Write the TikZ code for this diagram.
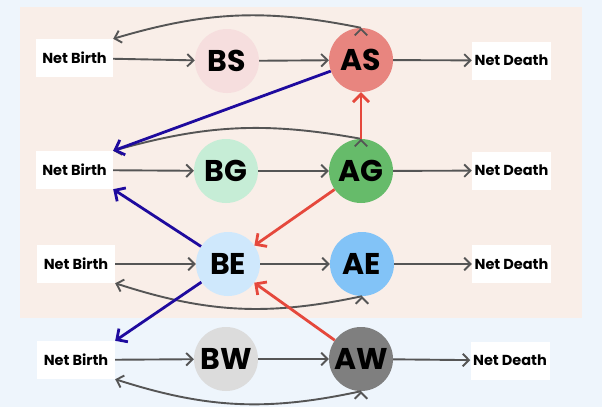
\documentclass[tikz,border=0pt]{standalone}
\usepackage{fontspec}
\setmainfont{Poppins}
\usepackage{tikz}
\usetikzlibrary{arrows.meta}
\definecolor{bgblue}{HTML}{EEF5FC}
\definecolor{peach}{HTML}{F9EEE8}
\definecolor{colBS}{HTML}{F6DEDE}
\definecolor{colAS}{HTML}{E8857F}
\definecolor{colBG}{HTML}{C6EDD6}
\definecolor{colAG}{HTML}{66BB6A}
\definecolor{colBE}{HTML}{CFE8FC}
\definecolor{colAE}{HTML}{82C3F7}
\definecolor{colBW}{HTML}{DCDCDC}
\definecolor{colAW}{HTML}{7F7F7F}
\definecolor{flowgray}{HTML}{555555}
\definecolor{flowblue}{HTML}{1E0A9E}
\definecolor{flowred}{HTML}{E5483C}
\tikzstyle{stage}=[circle, minimum size=64pt, inner sep=0pt, font=\fontsize{30}{30}\selectfont\bfseries]
\tikzstyle{flowbox}=[fill=white, minimum height=38pt, inner sep=0pt, font=\fontsize{14.5}{14.5}\selectfont\bfseries]
\tikzstyle{arrow}=[draw=flowgray, line width=1.9pt, -{Straight Barb[length=2.2mm]}]
\tikzstyle{arrowblue}=[draw=flowblue, line width=2.8pt, -{Straight Barb[length=2.8mm]}]
\tikzstyle{arrowred}=[draw=flowred, line width=2.8pt, -{Straight Barb[length=2.8mm]}]

\begin{document}
\begin{tikzpicture}[x=1pt, y=-1pt]
		   \fill [bgblue] (0, 0) rectangle (602, 407);
		   \fill [peach] (20, 7) rectangle (582, 318);
		   \useasboundingbox (0, 0) rectangle (602, 407);
		   \begin{scope}
			   \node (nb1) at (74.5, 58)[flowbox, minimum width=77pt] {Net Birth};
			   \node (nb2) at (74.5, 170)[flowbox, minimum width=77pt] {Net Birth};
			   \node (nb3) at (76, 264)[flowbox, minimum width=78pt] {Net Birth};
			   \node (nb4) at (76, 360)[flowbox, minimum width=78pt] {Net Birth};
			   \node (BS) at (227, 61)[stage, fill=colBS] {BS};
			   \node (BG) at (226, 171)[stage, fill=colBG] {BG};
			   \node (BE) at (228, 264)[stage, fill=colBE] {BE};
			   \node (BW) at (226, 359)[stage, fill=colBW] {BW};
			   \node (AS) at (361, 60)[stage, fill=colAS] {AS};
			   \node (AG) at (361, 171)[stage, fill=colAG] {AG};
			   \node (AE) at (362, 264)[stage, fill=colAE] {AE};
			   \node (AW) at (361, 359)[stage, fill=colAW] {AW};
			   \node (nd1) at (511.5, 60.5)[flowbox, minimum width=79pt] {Net Death};
			   \node (nd2) at (511.5, 170.5)[flowbox, minimum width=79pt] {Net Death};
			   \node (nd3) at (511.5, 264)[flowbox, minimum width=79pt] {Net Death};
			   \node (nd4) at (510, 360.5)[flowbox, minimum width=79pt] {Net Death};
		   \end{scope}
		   \begin{scope}
			   % births, ageing, deaths
			   \path [arrow] (nb1) edge (BS);
			   \path [arrow] (nb2) edge (BG);
			   \path [arrow] (nb3) edge (BE);
			   \path [arrow] (nb4) edge (BW);
			   \path [arrow] (BS) edge (AS);
			   \path [arrow] (BG) edge (AG);
			   \path [arrow] (BE) edge (AE);
			   \path [arrow] (BW) edge (AW);
			   \path [arrow] (AS) edge (nd1);
			   \path [arrow] (AG) edge (nd2);
			   \path [arrow] (AE) edge (nd3);
			   \path [arrow] (AW) edge (nd4);
			   % reproduction
			   \path [arrow] (AS.north) edge[bend right=14] (nb1.north east);
			   \path [arrow] (AG.north) edge[bend right=13] (nb2.north east);
			   \path [arrow] (AE.south) edge[bend left=15] (nb3.south east);
			   \path [arrow] (AW.south) edge[bend left=15] (nb4.south east);
			   % transitions
			   \path [arrowblue] (AS) edge (nb2.north east);
			   \path [arrowblue] (BE) edge (nb2.south east);
			   \path [arrowblue] (BE) edge (nb4.north east);
			   \path [arrowred] (AG) edge (AS);
			   \path [arrowred] (AG) edge (BE);
			   \path [arrowred] (AW) edge (BE);
		   \end{scope}
	   \end{tikzpicture}
\end{document}
